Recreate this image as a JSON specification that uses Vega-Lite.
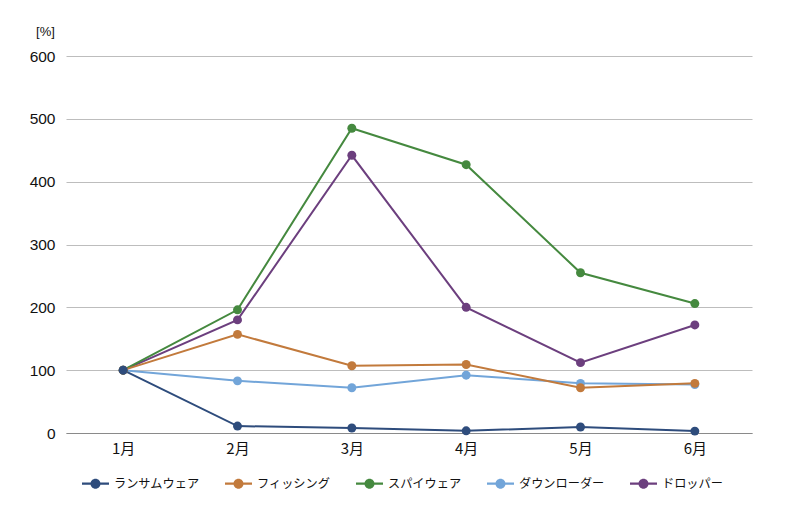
{
  "$schema": "https://vega.github.io/schema/vega-lite/v6.json",
  "width": 686,
  "height": 377,
  "autosize": {"type": "none"},
  "padding": {"left": 66, "top": 56, "right": 48, "bottom": 87},
  "background": "white",
  "config": {
    "view": {"stroke": null},
    "font": "Noto Sans CJK JP"
  },
  "data": {
    "values": [
      {"month": "1月", "series": "ドロッパー", "value": 100},
      {"month": "2月", "series": "ドロッパー", "value": 180},
      {"month": "3月", "series": "ドロッパー", "value": 442},
      {"month": "4月", "series": "ドロッパー", "value": 200},
      {"month": "5月", "series": "ドロッパー", "value": 112},
      {"month": "6月", "series": "ドロッパー", "value": 172},
      {"month": "1月", "series": "ダウンローダー", "value": 100},
      {"month": "2月", "series": "ダウンローダー", "value": 83},
      {"month": "3月", "series": "ダウンローダー", "value": 72},
      {"month": "4月", "series": "ダウンローダー", "value": 92},
      {"month": "5月", "series": "ダウンローダー", "value": 79},
      {"month": "6月", "series": "ダウンローダー", "value": 77},
      {"month": "1月", "series": "スパイウェア", "value": 100},
      {"month": "2月", "series": "スパイウェア", "value": 196},
      {"month": "3月", "series": "スパイウェア", "value": 485},
      {"month": "4月", "series": "スパイウェア", "value": 427},
      {"month": "5月", "series": "スパイウェア", "value": 255},
      {"month": "6月", "series": "スパイウェア", "value": 206},
      {"month": "1月", "series": "フィッシング", "value": 100},
      {"month": "2月", "series": "フィッシング", "value": 157},
      {"month": "3月", "series": "フィッシング", "value": 107},
      {"month": "4月", "series": "フィッシング", "value": 109},
      {"month": "5月", "series": "フィッシング", "value": 72},
      {"month": "6月", "series": "フィッシング", "value": 79},
      {"month": "1月", "series": "ランサムウェア", "value": 100},
      {"month": "2月", "series": "ランサムウェア", "value": 11},
      {"month": "3月", "series": "ランサムウェア", "value": 8},
      {"month": "4月", "series": "ランサムウェア", "value": 3.5},
      {"month": "5月", "series": "ランサムウェア", "value": 9.5},
      {"month": "6月", "series": "ランサムウェア", "value": 3}
    ]
  },
  "encoding": {
    "x": {
      "field": "month", "type": "ordinal",
      "sort": ["1月", "2月", "3月", "4月", "5月", "6月"],
      "scale": {"type": "point", "padding": 0.5},
      "axis": {
        "title": null, "labelAngle": 0, "ticks": false,
        "domainColor": "#8a8a8a", "domainWidth": 1,
        "labelFontSize": 15, "labelColor": "#111", "labelPadding": 8,
        "labelFont": "Noto Sans CJK JP", "grid": false
      }
    },
    "y": {
      "field": "value", "type": "quantitative",
      "scale": {"domain": [0, 600]},
      "axis": {
        "values": [0, 100, 200, 300, 400, 500, 600],
        "domain": false, "ticks": false,
        "gridColor": "#bdbdbd", "gridWidth": 1,
        "labelFontSize": 15.5, "labelColor": "#111", "labelPadding": 11,
        "labelFont": "Liberation Sans",
        "title": "[%]", "titleAngle": 0, "titleFontSize": 13,
        "titleFontWeight": "normal", "titleColor": "#111",
        "titleX": -21, "titleY": -25, "titleAlign": "center", "titleBaseline": "middle",
        "titleFont": "Liberation Sans"
      }
    },
    "color": {
      "field": "series", "type": "nominal",
      "scale": {
        "domain": ["ランサムウェア", "フィッシング", "スパイウェア", "ダウンローダー", "ドロッパー"],
        "range": ["#2e4c7c", "#c27a3c", "#45893f", "#72a5d9", "#6c3f7e"]
      },
      "legend": {
        "title": null, "orient": "none", "direction": "horizontal",
        "legendX": 16, "legendY": 414,
        "symbolType": "M-1,-0.08H1V0.08H-1Z M0.37,0A0.37,0.37,0,1,1,-0.37,0A0.37,0.37,0,1,1,0.37,0Z",
        "symbolSize": 729, "symbolStrokeWidth": 0, "symbolOpacity": 1,
        "labelFontSize": 12.2, "labelFont": "Noto Sans CJK JP", "labelColor": "#111",
        "labelOffset": 5, "columnPadding": 25, "padding": 0
      }
    }
  },
  "layer": [
    {"mark": {"type": "line", "strokeWidth": 2}},
    {"mark": {"type": "point", "filled": true, "opacity": 1, "size": 80}}
  ]
}
